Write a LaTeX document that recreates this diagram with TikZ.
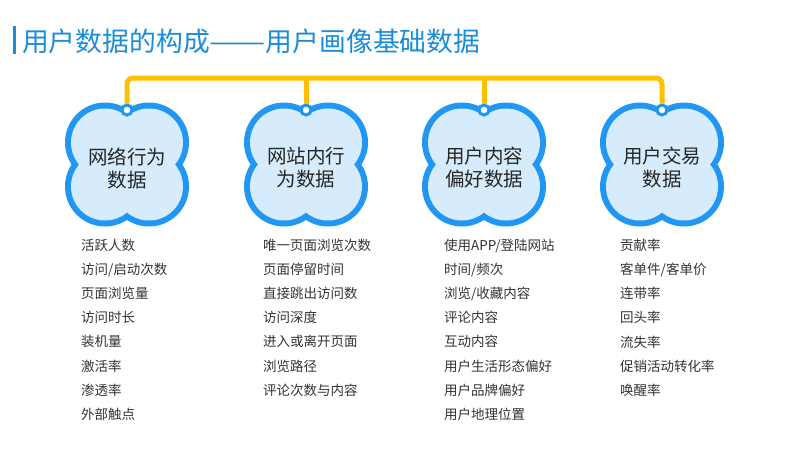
\documentclass[tikz,border=0pt]{standalone}
\usepackage{fontspec}
\newfontfamily\cjk{Noto Sans CJK SC}
\usetikzlibrary{positioning}

\definecolor{ringblue}{HTML}{2196F3}
\definecolor{cloudfill}{HTML}{D6ECFC}
\definecolor{busyellow}{HTML}{FFC000}
\definecolor{titleblue}{HTML}{1A8CD8}
\definecolor{listgray}{HTML}{333333}

\begin{document}
\begin{tikzpicture}[
    x=1pt, y=-1pt,
    headline/.style={font=\cjk\fontsize{26.8pt}{30pt}\selectfont, text=titleblue,
                     anchor=west, inner sep=0pt},
    cloudtext/.style={font=\cjk\fontsize{19.5pt}{23pt}\selectfont, text=black!85,
                      align=center, inner sep=0pt},
    itemlist/.style={font=\cjk\fontsize{13.5pt}{24.1pt}\selectfont, text=listgray,
                     align=left, anchor=north west, inner sep=0pt},
    tagdot/.style={circle, fill=white, draw=ringblue, line width=3pt,
                   minimum size=10pt, inner sep=0pt},
    busline/.style={busyellow, line width=5pt, rounded corners=6pt}
]
\useasboundingbox (0,0) rectangle (787,448);

% title with side bar
\node[headline] (title) at (22,41) {用户数据的构成\scalebox{1.25}[1]{——}用户画像基础数据};
\draw[titleblue, line width=3pt] (14,26) coordinate (bartop) -- (14,54) coordinate (barbot);

% four cloud shapes
\foreach \x/\n in {127/net, 306/web, 484/pref, 662/trade} {
  \begin{scope}[shift={(\x,164.5)}]
    \fill[ringblue] (-22,-22) circle[radius=40pt] (22,-22) circle[radius=40pt]
                    (-22,22) circle[radius=40pt] (22,22) circle[radius=40pt];
    \fill[cloudfill] (-22,-22) circle[radius=34pt] (22,-22) circle[radius=34pt]
                     (-22,22) circle[radius=34pt] (22,22) circle[radius=34pt]
                     (-22,-22) rectangle (22,22);
  \end{scope}
  \node[tagdot] (\n-dot) at (\x,110) {};
}

\node[cloudtext] (net)   at (127,168) {网络行为\\数据};
\node[cloudtext] (web)   at (306,168) {网站内行\\为数据};
\node[cloudtext] (pref)  at (484,168) {用户内容\\偏好数据};
\node[cloudtext] (trade) at (662,168) {用户交易\\数据};

% yellow bus
\coordinate (bus) at (0,78);
\draw[busline] (net-dot.north) |- (trade-dot.north |- bus) -- (trade-dot.north);
\foreach \n in {web, pref}
  \draw[busline] (\n-dot.north) -- (\n-dot.north |- bus);

% item lists
\node[itemlist] (netlist) at (81,239) {活跃人数\\访问/启动次数\\页面浏览量\\访问时长\\装机量\\激活率\\渗透率\\外部触点};
\node[itemlist] (weblist) at (263,239) {唯一页面浏览次数\\页面停留时间\\直接跳出访问数\\访问深度\\进入或离开页面\\浏览路径\\评论次数与内容};
\node[itemlist] (preflist) at (444,239) {使用APP/登陆网站\\时间/频次\\浏览/收藏内容\\评论内容\\互动内容\\用户生活形态偏好\\用户品牌偏好\\用户地理位置};
\node[itemlist] (tradelist) at (620,239) {贡献率\\客单件/客单价\\连带率\\回头率\\流失率\\促销活动转化率\\唤醒率};
\end{tikzpicture}
\end{document}
